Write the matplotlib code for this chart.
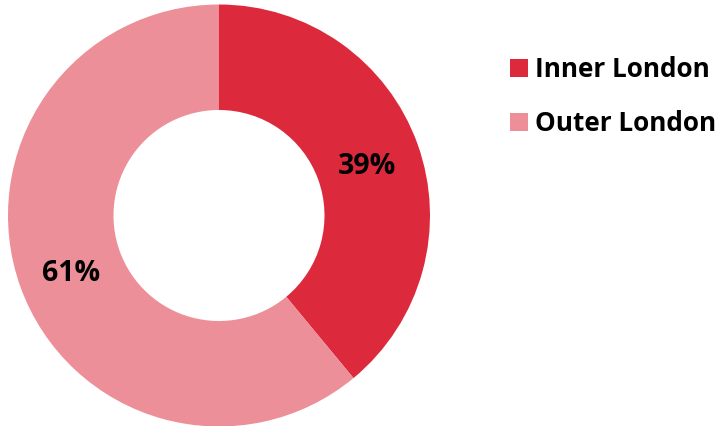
import matplotlib
matplotlib.use("Agg")
import matplotlib.pyplot as plt
from matplotlib.patches import Patch
from matplotlib.transforms import offset_copy

categories = ["Inner London", "Outer London"]
values = [39, 61]
colors = ["#DC2A3C", "#EC8F98"]

plt.rcParams['font.family'] = ['Open Sans', 'DejaVu Sans']

fig = plt.figure(figsize=(7.2, 4.26), dpi=100)
W, H = 720, 426
cx, cy, r = 219, 215.5, 211
ax = fig.add_axes([(cx - r) / W, (H - cy - r) / H, 2 * r / W, 2 * r / H])
wedges, texts, autotexts = ax.pie(
    values, colors=colors, startangle=90, counterclock=False,
    radius=1, wedgeprops=dict(width=0.5, linewidth=0),
    autopct=lambda p: f"{p:.0f}%", pctdistance=0.745,
    textprops=dict(fontsize=20.5, fontweight='bold', color='black'))
for t in autotexts:
    t.set_transform(offset_copy(ax.transData, fig=fig, x=0, y=-4.5, units='dots'))
ax.set_xlim(-1, 1)
ax.set_ylim(-1, 1)
ax.set_aspect('auto')
ax.axis('off')

handles = [Patch(facecolor=c, edgecolor='none') for c in colors]
fig.legend(handles, categories, loc='upper left', bbox_to_anchor=(510 / W, 1 - 56 / H),
           frameon=False, prop=dict(size=18.8, weight='bold'),
           borderpad=0, borderaxespad=0,
           handlelength=0.68, handleheight=0.68, handletextpad=0.26, labelspacing=1.05)

fig.savefig("out.png", dpi=100)
